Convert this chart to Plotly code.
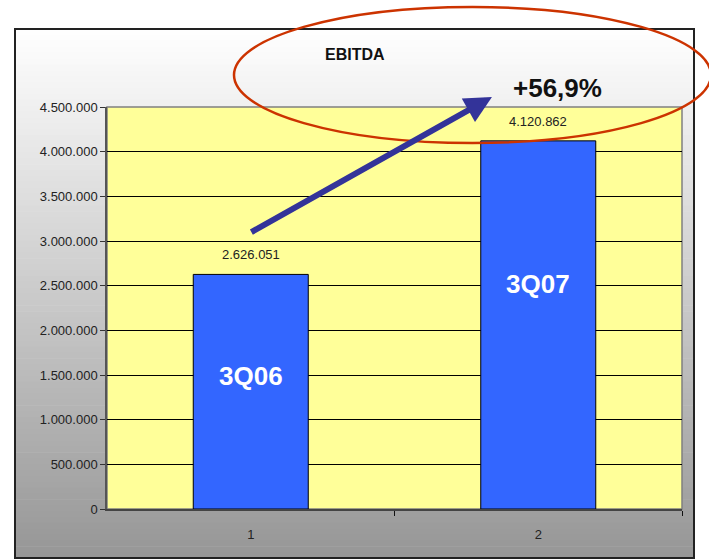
import plotly.graph_objects as go

# ---- data ----
categories = [1, 2]
tick_labels = ["1", "2"]
ebitda = [2626051, 4120862]
period_labels = ["3Q06", "3Q07"]
title_text = "EBITDA"
growth_text = "+56,9%"

W, H = 709, 560
ML, MR, MT, MB = 107, 27, 107, 51
PW, PH = W - ML - MR, H - MT - MB
FONT = "Arial, Liberation Sans"


def px(x):
    return (x - ML) / PW


def py(y):
    return (H - MB - y) / PH


def fmt(v):
    return f"{v:,}".replace(",", ".")


fig = go.Figure()
fig.add_trace(go.Bar(
    x=categories, y=ebitda, width=0.4,
    marker=dict(color="#3366FF", line=dict(color="#000000", width=1)),
    hoverinfo="skip", showlegend=False,
))

shapes = []
# gradient background of the chart frame
top, bot = 29, 558
n = 90
c0, c1 = 255, 150
for i in range(n):
    y0 = top + (bot - top) * i / n
    y1 = top + (bot - top) * (i + 1) / n + 0.6
    t = (i + 0.5) / n
    c = int(round(c0 + (c1 - c0) * t))
    shapes.append(dict(type="rect", xref="paper", yref="paper",
                       x0=px(15), x1=px(694), y0=py(y1), y1=py(y0),
                       fillcolor=f"rgb({c},{c},{c})", line=dict(width=0),
                       layer="below"))
# plot area
shapes.append(dict(type="rect", xref="paper", yref="paper", x0=0, x1=1, y0=0, y1=1,
                   fillcolor="#FFFF99", line=dict(color="#808080", width=1.5),
                   layer="below"))
# frame
shapes.append(dict(type="rect", xref="paper", yref="paper",
                   x0=px(15), x1=px(694), y0=py(558), y1=py(29),
                   line=dict(color="#222222", width=2), layer="above"))
# ellipse
shapes.append(dict(type="circle", xref="paper", yref="paper",
                   x0=px(234), x1=px(711), y0=py(143), y1=py(7),
                   line=dict(color="#CC3300", width=2.5), layer="above"))

annotations = []
label_frac = [0.565, 0.61]
for xv, v, lab, f in zip(categories, ebitda, period_labels, label_frac):
    annotations.append(dict(x=xv, y=v, text=fmt(v), showarrow=False,
                            xanchor="center", yanchor="bottom", yshift=10,
                            font=dict(family=FONT, size=13, color="#222222")))
    annotations.append(dict(x=xv, y=v * f, text=f"<b>{lab}</b>", showarrow=False,
                            xanchor="center", yanchor="middle",
                            font=dict(family=FONT, size=26, color="#FFFFFF")))

annotations.append(dict(xref="paper", yref="paper", x=px(355), y=py(55), text=f"<b>{title_text}</b>",
                        showarrow=False, xanchor="center", yanchor="middle",
                        font=dict(family=FONT, size=16, color="#111111")))
annotations.append(dict(xref="paper", yref="paper", x=px(557), y=py(88), text=f"<b>{growth_text}</b>",
                        showarrow=False, xanchor="center", yanchor="middle",
                        font=dict(family=FONT, size=26, color="#111111")))

# growth arrow
arrow_tail = (0.997, 3090000)
arrow_tip = (1.839, 4612000)
annotations.append(dict(x=arrow_tip[0], y=arrow_tip[1], ax=arrow_tail[0], ay=arrow_tail[1],
                        xref="x", yref="y", axref="x", ayref="y", text="",
                        showarrow=True, arrowhead=2, arrowsize=0.9, arrowwidth=6,
                        arrowcolor="#333399", standoff=0))

fig.update_layout(
    width=W, height=H,
    margin=dict(l=ML, r=MR, t=MT, b=MB, pad=0),
    paper_bgcolor="#FFFFFF", plot_bgcolor="rgba(0,0,0,0)",
    separators=",.",
    shapes=shapes, annotations=annotations,
    font=dict(family=FONT, size=13, color="#222222"),
    bargap=0.6,
)
fig.update_xaxes(range=[0.5, 2.5], tickvals=categories, ticktext=tick_labels,
                 ticks="", showline=True, linecolor="#444444", linewidth=1.5,
                 showgrid=False, zeroline=False, ticklabelstandoff=13,
                 minor=dict(tickvals=[1.5, 2.5], ticks="outside", ticklen=5,
                            tickcolor="#111111", tickwidth=1, showgrid=False),
                 tickfont=dict(size=13, color="#222222"), fixedrange=True)
fig.update_yaxes(range=[0, 4500000], dtick=500000, tickformat=",d",
                 showgrid=True, gridcolor="#000000", gridwidth=1,
                 ticks="outside", ticklen=5, tickcolor="#333333",
                 showline=True, linecolor="#555555", linewidth=1.5,
                 zeroline=False, tickfont=dict(size=13, color="#222222"),
                 fixedrange=True)

fig.write_html("out.html", config={"displayModeBar": False},
               post_script="document.body.style.margin='0px';")
